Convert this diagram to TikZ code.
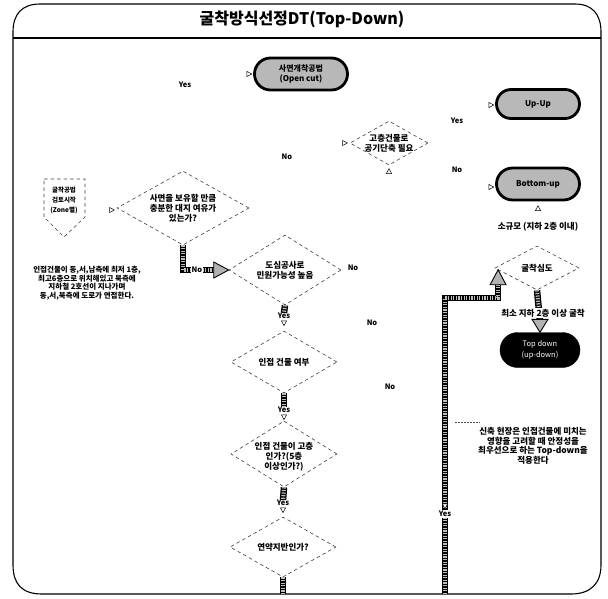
\documentclass[tikz,border=0pt]{standalone}
\usepackage{fontspec}
\setmainfont{Noto Sans CJK KR}
\usetikzlibrary{shapes.geometric,shapes.misc,calc}
\newcommand{\fsz}[2]{\fontsize{#1}{#2}\selectfont}
\tikzset{
 tri/.pic={\draw[fill=white, line width=0.5pt] (-2.2,-2.6) -- (2.6,0) -- (-2.2,2.6) -- cycle;},
}
\begin{document}
\begin{tikzpicture}[x=1pt,y=-1pt,
 every node/.style={inner sep=0pt, align=center},
 txt/.style={font=\bfseries\fsz{8.5}{10}},
 lbl/.style={font=\bfseries\fsz{7.5}{9}},
 dia/.style={shape=diamond, draw=black!75, line width=0.6pt, dash pattern=on 3.5pt off 3pt},
 dsh/.style={draw=black!75, line width=0.6pt, dash pattern=on 3.5pt off 3pt},
 stad/.style={rounded rectangle, draw=black, line width=2.8pt, fill=black!28, minimum width=83pt, minimum height=30pt, font=\bfseries\fsz{8}{9.5}},
 pill/.style={rounded rectangle, draw=black, fill=black, text=white, minimum width=80pt, minimum height=35pt, font=\fsz{7.5}{11}},
 hatch/.style={draw=black, line width=6.5pt, postaction={draw=black!25, line width=4pt, dash pattern=on 1.2pt off 1.4pt}},
 htip/.style={draw=black, line width=0.9pt, fill=black!30},
 bordr/.style={draw=black, line width=1.1pt},
]
\useasboundingbox (0,0) rectangle (608,598);
% frame
\draw[bordr] (13,32) .. controls (13,14) and (22,4) .. (40,4) -- (575,4)
  .. controls (592,4) and (601,14) .. (601,32) -- (601,565)
  .. controls (601,584) and (590,594) .. (571,594) -- (42,594)
  .. controls (22,594) and (13,584) .. (13,565) -- cycle;
\draw[bordr] (13,38) -- (601,38);
\node[font=\bfseries\fsz{16}{18}] (title) at (302,19) {굴착방식선정DT(Top-Down)};

% terminal stadiums
\node[stad, minimum width=93pt, minimum height=32pt] (s0) at (301,74) {사면개착공법\\(Open cut)};
\node[stad, minimum height=29pt] (s1) at (538,104) {Up-Up};
\node[stad, minimum height=32pt] (s2) at (538,184) {Bottom-up};
\node[txt] (s2l) at (538,227) {소규모 (지하 2층 이내)};
\node[pill] (s3) at (540,350) {Top down\\(up-down)};

% pentagon start
\node[txt, font=\bfseries\fsz{6.5}{10}] (p0) at (64,200) {굴착공법\\검토시작\\(Zone별)};
\draw[dsh] ($(p0)+(-20,-21)$) -- ($(p0)+(21,-21)$) -- ($(p0)+(21,17)$) -- ($(p0)+(0,37)$) -- ($(p0)+(-20,17)$) -- cycle;
\node[txt, font=\bfseries\fsz{7.5}{8.6}] (t0) at (87,283) {인접건물이 동,서,남측에 최저 1층,\\최고6층으로 위치해있고 북측에\\지하철 2호선이 지나가며\\동,서,북측에 도로가 연접한다.};

% decision diamonds
\node[dia, minimum width=132pt, minimum height=74pt] (d1) at (183,208) {};
\node[txt] (d1t) at (d1) {사면을 보유할 만큼\\충분한 대지 여유가\\있는가?};
\node[dia, minimum width=112pt, minimum height=70pt] (d2) at (285,270) {};
\node[txt] (d2t) at (d2) {도심공사로\\민원가능성 높음};
\node[dia, minimum width=106pt, minimum height=62pt] (d3) at (284,362) {};
\node[txt] (d3t) at (d3) {인접 건물 여부};
\node[dia, minimum width=106pt, minimum height=66pt] (d4) at (284,454) {};
\node[txt] (d4t) at ($(d4)+(0,3)$) {인접 건물이 고층\\인가?(5층\\이상인가?)};
\node[dia, minimum width=106pt, minimum height=60pt] (d5) at (283,547) {};
\node[txt] (d5t) at (d5) {연약지반인가?};
\node[dia, minimum width=78pt, minimum height=44pt] (d6) at (389,143) {};
\node[txt] (d6t) at (d6) {고층건물로\\공기단축 필요};
\node[dia, minimum width=84pt, minimum height=44pt] (d7) at (537,268) {};
\node[txt] (d7t) at (d7) {굴착심도};

% labels
\node[lbl] (y0) at (185,85) {Yes};
\node[lbl] (n0) at (287,157) {No};
\node[lbl] (y6) at (457,121) {Yes};
\node[lbl] (n6) at (457,170) {No};
\node[lbl] (n2) at (353,268) {No};
\node[lbl] (n3) at (372,323) {No};
\node[lbl] (n4) at (390,387) {No};
\node[lbl] (y2) at (284,316) {Yes};
\node[lbl] (y3) at (284,410) {Yes};
\node[lbl] (y4) at (283,503) {Yes};

% connection markers
\pic at ($(s0.west)+(-4,0)$) {tri};
\pic at ($(s1.west)+(-4,1)$) {tri};
\pic at ($(s2.west)+(-4,3)$) {tri};
\pic[rotate=90] at ($(s2.south)+(0,7)$) {tri};
\pic at ($(d1.west)+(-5,2)$) {tri};
\pic at ($(d6.west)+(-5,0)$) {tri};
\pic[rotate=90] at ($(d6.south)+(0,6)$) {tri};
\pic[rotate=-90] at ($(y2.south)+(0,4)$) {tri};
\pic[rotate=-90] at ($(y3.south)+(0,4)$) {tri};
\pic[rotate=-90] at ($(y4.south)+(0,4)$) {tri};

% hatched flow arrows
\coordinate (d1c) at (d1.south |- d2.west);
\draw[hatch] (d1.south) -- (d1c) -- ($(d2.west)+(-13,0)$);
\draw[htip] (d2.west) -- ++(-15,-8) -- ++(0,16) -- cycle;
\node[lbl, fill=white, inner sep=0.6pt] (nl) at (197,270) {No};
\draw[hatch] (d2.south) -- (y2.north);
\draw[hatch] (d3.south) -- (y3.north);
\draw[hatch] (d4.south) -- (y4.north);
\coordinate (d5b) at (d5.south |- 0,594);
\draw[hatch] (d5.south) -- (d5b);

\coordinate (bA) at (445,594);
\coordinate (bB) at (445,298);
\coordinate (d7in) at ($(d7.west)!0.08!(d7.south)$);
\coordinate (bC) at (bB -| d7in);
\draw[hatch] (bA) -- (bB) -- (bC) -- ($(d7in)+(0,13)$);
\draw[htip] (d7in) -- ++(-8,15) -- ++(16,0) -- cycle;
\node[lbl, fill=white, inner sep=0.8pt] (yb) at (445,514) {Yes};
\pic[rotate=-90] at ($(yb.north)+(0,-4)$) {tri};

\draw[hatch] (d7.south) -- ($(s3.north)+(0,-11)$);
\draw[htip] (s3.north) -- ++(-8,-13) -- ++(16,0) -- cycle;
\node[txt, fill=white, inner sep=0.8pt] (d7l) at (543,313) {최소 지하 2층 이상 굴착};

% note
\node[txt, font=\bfseries\fsz{8.5}{9.5}] (t1) at (533,446) {신축 현장은 인접건물에 미치는\\영향을 고려할 때 안정성을\\최우선으로 하는 Top-down을\\적용한다};
\coordinate (nlA) at (455,422);
\coordinate (nlB) at (480,422);
\draw[black!70, line width=0.6pt, dash pattern=on 2pt off 1pt] (nlA) -- (nlB);
\end{tikzpicture}
\end{document}
